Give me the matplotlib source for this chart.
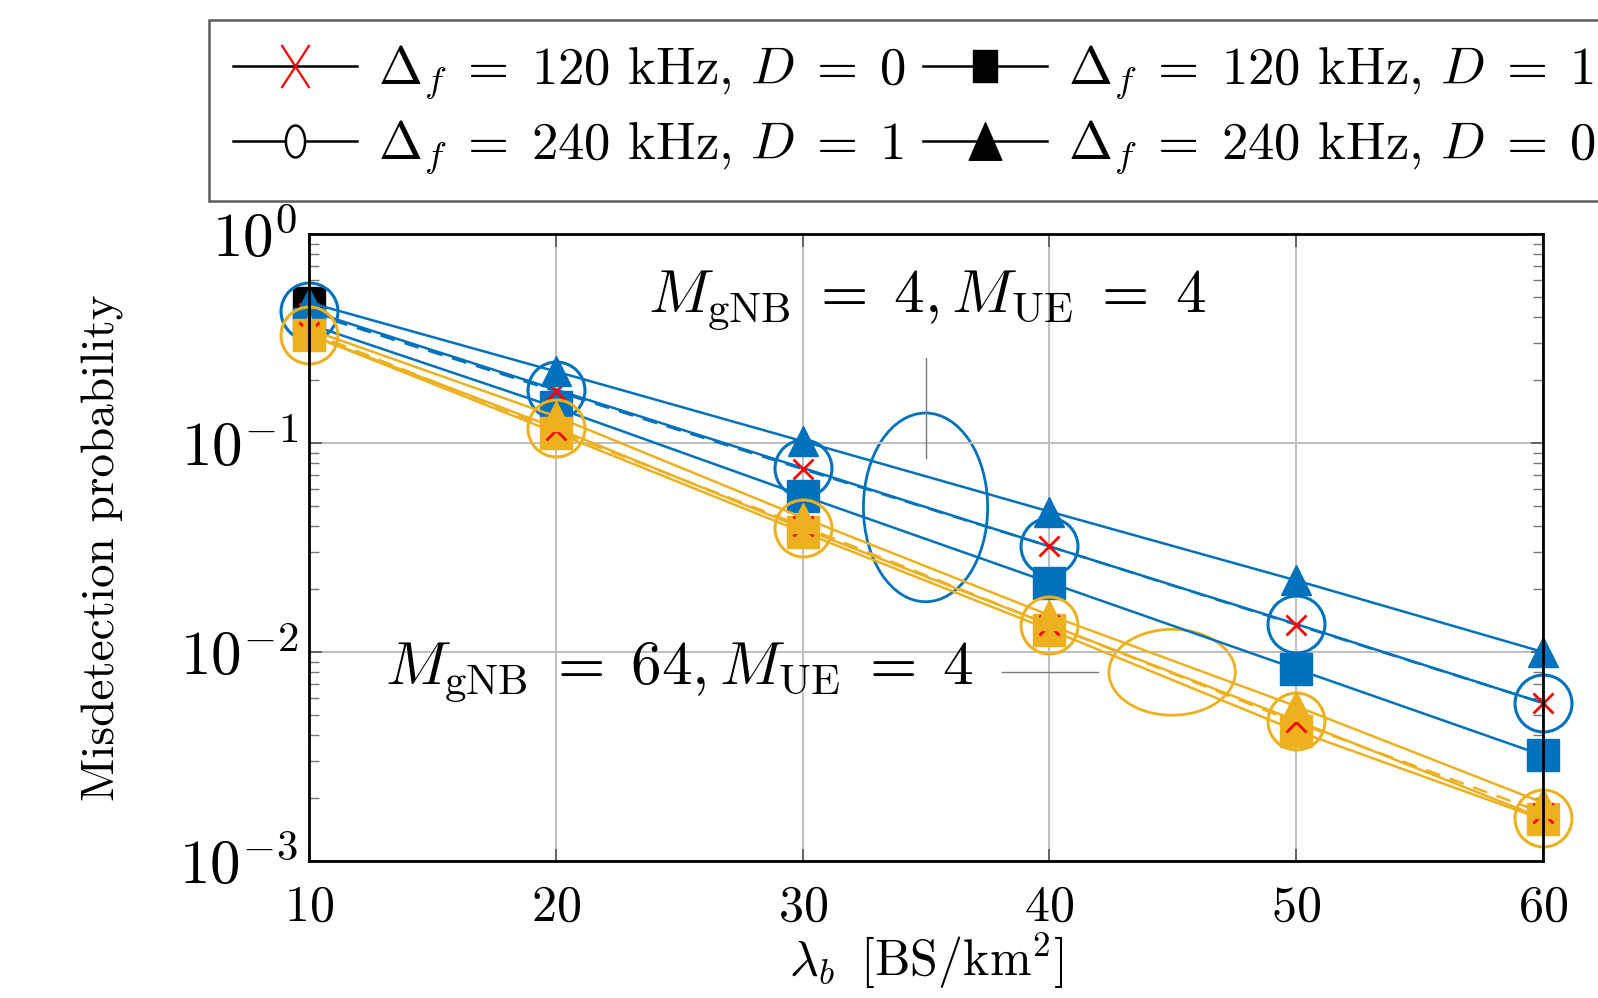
import matplotlib
matplotlib.use('Agg')
from matplotlib import pyplot as plt
from matplotlib.lines import Line2D
from matplotlib.patches import Ellipse
from matplotlib.path import Path
from matplotlib.transforms import Affine2D
from matplotlib.ticker import FixedLocator, FixedFormatter

plt.rcParams['font.family'] = 'serif'
plt.rcParams['font.serif'] = ['cmr10']
plt.rcParams['mathtext.fontset'] = 'cm'
plt.rcParams['axes.formatter.use_mathtext'] = True

# donnees
lam = [10, 20, 30, 40, 50, 60]

# M_gNB = 4, M_UE = 4 (bleu)
b_x = [0.42, 0.177, 0.075, 0.032, 0.0135, 0.0057]
b_sq = [0.37, 0.148, 0.056, 0.0215, 0.0083, 0.0032]
b_circ = [0.43, 0.18, 0.076, 0.032, 0.0136, 0.0057]
b_tri = [0.47, 0.22, 0.102, 0.047, 0.022, 0.0100]

# M_gNB = 64, M_UE = 4 (orange)
o_x = [0.34, 0.115, 0.040, 0.0135, 0.0046, 0.0017]
o_sq = [0.33, 0.112, 0.0375, 0.0128, 0.0042, 0.00158]
o_circ = [0.33, 0.118, 0.039, 0.0135, 0.0047, 0.0016]
o_tri = [0.35, 0.134, 0.044, 0.0150, 0.0055, 0.0019]

yticks = [1e-3, 1e-2, 1e-1, 1]
ytick_labels = [r'$10^{-3}$', r'$10^{-2}$', r'$10^{-1}$', r'$10^{0}$']

labels = [r'$\Delta_f\;=\;120$ kHz, $D\;=\;0$',
          r'$\Delta_f\;=\;120$ kHz, $D\;=\;1$',
          r'$\Delta_f\;=\;240$ kHz, $D\;=\;1$',
          r'$\Delta_f\;=\;240$ kHz, $D\;=\;0$']

blue = '#0072BD'
orange = '#EDB120'
lw = 1.8

fig = plt.figure(figsize=(15.98, 9.98), dpi=100)
ax = fig.add_axes([0.1934, 0.1373, 0.7722, 0.6282])

# courbes noires (servent pour la legende dans l'original)
ax.plot(lam[:1], b_tri[:1], color='k', lw=lw, marker='s', ms=23, clip_on=False)
ax.plot(lam[:1], b_tri[:1], color='k', lw=lw, marker='^', ms=22, clip_on=False)

for c, yx, ysq, yci, ytr in [(blue, b_x, b_sq, b_circ, b_tri),
                              (orange, o_x, o_sq, o_circ, o_tri)]:
    ax.plot(lam, yci, color=c, lw=lw, marker='o', ms=41, mfc='none', mew=2.2, clip_on=False)
    ax.plot(lam, ysq, color=c, lw=lw, marker='s', ms=23, clip_on=False)
    ax.plot(lam, yx, color=c, lw=lw, ls=(0, (6, 4)), marker='x', ms=15,
            mec='red', mew=2.0, clip_on=False)
    ax.plot(lam, ytr, color=c, lw=lw, marker='^', ms=22, clip_on=False)

ax.set_yscale('log')
ax.set_xlim(10, 60)
ax.set_ylim(1e-3, 1)
ax.set_xticks(lam)
ax.yaxis.set_major_locator(FixedLocator(yticks))
ax.yaxis.set_major_formatter(FixedFormatter(ytick_labels))
ax.grid(True, which='major', color='#c0c0c0', lw=1.5)
ax.tick_params(which='both', direction='in', top=True, right=True)
ax.tick_params(axis='x', labelsize=36, pad=17)
ax.tick_params(axis='y', labelsize=44, pad=8)
ax.tick_params(which='major', length=9, width=1.2, color='#555555')
ax.tick_params(which='minor', length=7, width=1.0, color='#777777')
for s in ax.spines.values():
    s.set_linewidth(2)
ax.set_xlabel(r'$\lambda_b\;\;$[BS/km$^2$]', fontsize=36, labelpad=0)
ax.set_ylabel('Misdetection probability', fontsize=34, labelpad=40)

# annotations
ax.add_patch(Ellipse((0.4996, 0.564), 0.1007, 0.301, transform=ax.transAxes,
                     fill=False, ec=blue, lw=2.0))
ax.plot([0.4996, 0.4996], [0.642, 0.802], transform=ax.transAxes, color='#777777', lw=1)
ax.text(0.501, 0.894, r'$M_{\mathrm{gNB}}\;=\;4, M_{\mathrm{UE}}\;=\;4$', transform=ax.transAxes,
        ha='center', va='center', fontsize=44)
ax.add_patch(Ellipse((0.6994, 0.301), 0.1024, 0.137, transform=ax.transAxes,
                     fill=False, ec=orange, lw=2.0))
ax.plot([0.5615, 0.639], [0.301, 0.301], transform=ax.transAxes, color='#777777', lw=1)
ax.text(0.300, 0.301, r'$M_{\mathrm{gNB}}\;=\;64, M_{\mathrm{UE}}\;=\;4$', transform=ax.transAxes,
        ha='center', va='center', fontsize=44)

# marqueurs de legende un peu etires verticalement comme dans l'original
m_x = Path([(-0.65, -1), (0.65, 1), (-0.65, 1), (0.65, -1)],
           [Path.MOVETO, Path.LINETO, Path.MOVETO, Path.LINETO])
m_o = Path.unit_circle().transformed(Affine2D().scale(0.6, 1))
m_s = Path.unit_rectangle().transformed(Affine2D().translate(-0.5, -0.5).scale(0.75, 1))
m_t = Path([(-0.87, -1), (0, 1), (0.87, -1), (-0.87, -1)],
           [Path.MOVETO, Path.LINETO, Path.LINETO, Path.CLOSEPOLY])
hx = Line2D([], [], color='k', lw=lw, marker=m_x, ms=31, mec='red', mew=1.6, mfc='none')
ho = Line2D([], [], color='k', lw=lw, marker=m_o, ms=23, mfc='white', mec='k', mew=1.8)
hs = Line2D([], [], color='k', lw=lw, marker=m_s, ms=23)
ht = Line2D([], [], color='k', lw=lw, marker=m_t, ms=27)

leg = fig.legend([hx, ho, hs, ht], [labels[0], labels[2], labels[1], labels[3]],
                 ncol=2, loc='upper left', bbox_to_anchor=(0.131, 0.98), borderaxespad=0,
                 fontsize=38, frameon=True, fancybox=False, edgecolor='#333333',
                 handlelength=2.35, handletextpad=0.39, columnspacing=0.33,
                 borderpad=0.45, labelspacing=0.32)
leg.get_frame().set_linewidth(1.8)

plt.savefig('out.png', dpi=100)
